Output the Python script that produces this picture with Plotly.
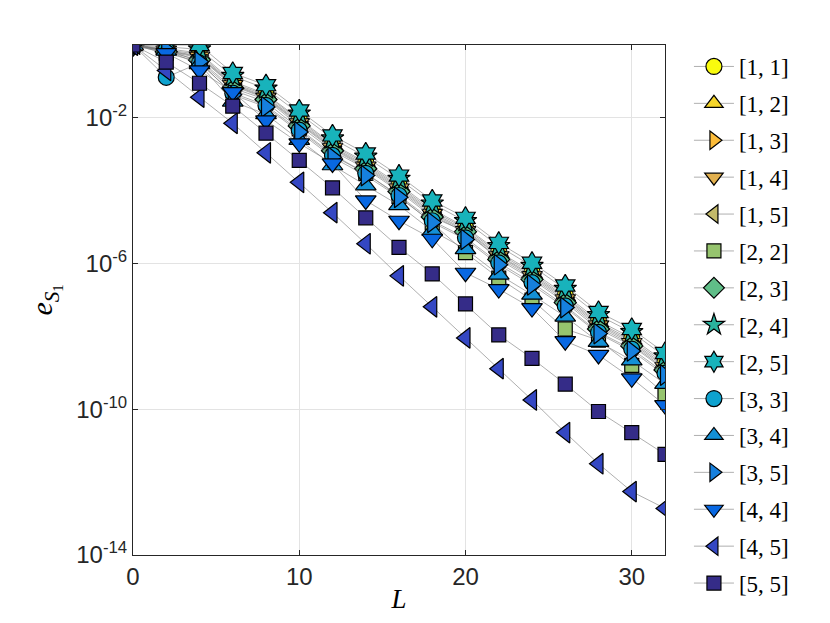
import plotly.graph_objects as go

# refinement level L and error e_S1 for each [p, q] pair
L = [0, 2, 4, 6, 8, 10, 12, 14, 16, 18, 20, 22, 24, 26, 28, 30, 32]

e_11 = [1.0, 0.8, 0.6, 1.0e-1, 4.5e-2, 9.5e-3, 1.9e-3, 6.0e-4, 1.5e-4, 3.1e-5, 1.0e-5, 2.1e-6, 6.0e-7, 1.4e-7, 2.7e-8, 9.0e-9, 2.0e-9]
e_12 = [1.0, 0.75, 0.55, 9.0e-2, 4.2e-2, 8.5e-3, 1.75e-3, 5.5e-4, 1.35e-4, 2.8e-5, 9.2e-6, 1.9e-6, 5.4e-7, 1.25e-7, 2.4e-8, 8.0e-9, 1.8e-9]
e_13 = [1.0, 0.72, 0.5, 8.5e-2, 3.8e-2, 7.8e-3, 1.6e-3, 5.0e-4, 1.25e-4, 2.5e-5, 8.4e-6, 1.7e-6, 4.9e-7, 1.15e-7, 2.2e-8, 7.2e-9, 1.6e-9]
e_14 = [1.0, 0.7, 0.48, 8.0e-2, 3.6e-2, 7.2e-3, 1.5e-3, 4.6e-4, 1.15e-4, 2.3e-5, 7.8e-6, 1.6e-6, 4.5e-7, 1.05e-7, 2.0e-8, 6.6e-9, 1.45e-9]
e_15 = [1.0, 0.68, 0.45, 7.6e-2, 3.4e-2, 6.8e-3, 1.4e-3, 4.3e-4, 1.05e-4, 2.1e-5, 7.2e-6, 1.45e-6, 4.1e-7, 9.5e-8, 1.8e-8, 6.0e-9, 1.3e-9]
e_22 = [1.0, 0.6, 0.35, 5.8e-2, 2.7e-2, 5.0e-3, 1.0e-3, 3.0e-4, 7.0e-5, 1.3e-5, 2.0e-6, 4.0e-7, 1.0e-7, 1.6e-8, 7.9e-9, 1.6e-9, 2.6e-10]
e_23 = [1.0, 0.65, 0.39, 6.5e-2, 3.2e-2, 6.0e-3, 1.25e-3, 4.0e-4, 9.5e-5, 1.9e-5, 7.5e-6, 1.3e-6, 3.7e-7, 8.5e-8, 1.6e-8, 5.5e-9, 1.2e-9]
e_24 = [1.0, 0.9, 0.75, 1.4e-1, 6.3e-2, 1.3e-2, 2.7e-3, 8.5e-4, 2.1e-4, 4.4e-5, 1.45e-5, 3.0e-6, 8.5e-7, 2.0e-7, 3.8e-8, 1.3e-8, 2.8e-9]
e_25 = [1.0, 1.0, 1.0, 1.7e-1, 7.9e-2, 1.6e-2, 3.3e-3, 1.05e-3, 2.6e-4, 5.4e-5, 1.8e-5, 3.7e-6, 1.05e-6, 2.5e-7, 4.7e-8, 1.6e-8, 3.5e-9]
e_33 = [1.0, 0.13, 0.32, 4.8e-2, 2.2e-2, 4.6e-3, 9.3e-4, 3.0e-4, 7.4e-5, 1.5e-5, 5.1e-6, 1.05e-6, 3.0e-7, 6.9e-8, 1.3e-8, 4.5e-9, 9.8e-10]
e_34 = [1.0, 0.7, 0.3, 2.8e-2, 1.26e-2, 2.5e-3, 5.0e-4, 1.4e-4, 4.0e-5, 7.9e-6, 2.5e-6, 5.0e-7, 1.4e-7, 3.5e-8, 7.1e-9, 2.2e-9, 5.0e-10]
e_35 = [1.0, 0.75, 0.35, 4.3e-2, 2.0e-2, 4.1e-3, 8.3e-4, 2.6e-4, 6.6e-5, 1.35e-5, 4.6e-6, 9.3e-7, 2.6e-7, 6.2e-8, 1.2e-8, 4.0e-9, 8.7e-10]
e_44 = [1.0, 0.6, 0.2, 5.1e-2, 8.5e-3, 2.0e-3, 5.6e-4, 5.4e-5, 1.5e-5, 4.8e-6, 5.6e-7, 2.0e-7, 6.0e-8, 7.4e-9, 3.1e-9, 7.1e-10, 1.3e-10]
e_45 = [1.0, 0.2, 3.7e-2, 7.1e-3, 1.1e-3, 1.7e-4, 2.5e-5, 3.5e-6, 4.6e-7, 6.5e-8, 9.1e-9, 1.3e-9, 1.8e-10, 2.3e-11, 3.2e-12, 5.5e-13, 1.9e-13]
e_55 = [1.0, 0.34, 8.9e-2, 2.1e-2, 3.8e-3, 6.8e-4, 1.2e-4, 1.8e-5, 2.8e-6, 5.2e-7, 7.8e-8, 1.1e-8, 2.5e-9, 4.9e-10, 8.7e-11, 2.3e-11, 5.8e-12]

names = ["[1, 1]", "[1, 2]", "[1, 3]", "[1, 4]", "[1, 5]", "[2, 2]", "[2, 3]", "[2, 4]",
         "[2, 5]", "[3, 3]", "[3, 4]", "[3, 5]", "[4, 4]", "[4, 5]", "[5, 5]"]
series = [e_11, e_12, e_13, e_14, e_15, e_22, e_23, e_24, e_25, e_33, e_34, e_35, e_44, e_45, e_55]

# parula-like colours, one per pair
colors = ["#F9FB0E", "#F6D62B", "#FCBC3A", "#E2B04E", "#C4BA6A", "#96C46E", "#60BE88", "#2AB29D",
          "#18B3BB", "#0EA2CF", "#1490D6", "#1680DE", "#0868E2", "#3447C3", "#352C88"]
symbols = ["circle", "triangle-up", "triangle-right", "triangle-down", "triangle-left", "square",
           "diamond", "star", "hexagram", "circle", "triangle-up", "triangle-right",
           "triangle-down", "triangle-left", "square"]
sizes = [16, 18, 18, 18, 18, 14, 17, 17, 17, 16, 18, 18, 18, 18, 14]

fig = go.Figure()

for i in range(len(names)):
    fig.add_trace(go.Scatter(
        x=L, y=series[i], name=names[i], mode="lines+markers",
        legendgroup=names[i],
        line=dict(color="rgba(120,120,120,0.85)", width=0.7),
        marker=dict(symbol=symbols[i], size=sizes[i], color=colors[i],
                    line=dict(color="black", width=1.2)),
    ))

# page has an 8px body margin, so the figure is a bit smaller than the window
fig.update_layout(
    width=822, height=615,
    plot_bgcolor="white", paper_bgcolor="white",
    margin=dict(l=125, r=165, t=37, b=68),
    font=dict(family="Liberation Sans, Arial", size=24, color="#262626"),
    legend=dict(x=1.045, y=1.0, xanchor="left", yanchor="top",
                font=dict(family="Liberation Serif, serif", size=23, color="black"),
                tracegroupgap=4, itemwidth=40, bgcolor="rgba(0,0,0,0)",
                maxheight=640),
    showlegend=True,
)

fig.update_xaxes(
    range=[0, 32], tickvals=[0, 10, 20, 30],
    ticks="inside", ticklen=5, tickcolor="#262626",
    showline=True, linecolor="#262626", linewidth=1, mirror="ticks",
    showgrid=True, gridcolor="#e3e3e3", zeroline=False,
    title=dict(text="<i>L</i>", font=dict(family="Liberation Serif, serif", size=27, color="black"),
               standoff=0),
)
fig.update_yaxes(
    type="log", range=[-14, 0],
    tickvals=[1e-2, 1e-6, 1e-10, 1e-14],
    ticktext=["10<sup>-2</sup>", "10<sup>-6</sup>", "10<sup>-10</sup>", "10<sup>-14</sup>"],
    ticks="inside", ticklen=5, tickcolor="#262626",
    showline=True, linecolor="#262626", linewidth=1, mirror="ticks",
    showgrid=True, gridcolor="#e3e3e3", zeroline=False,
    title=dict(text="<i>e</i><sub><i>S</i><sub>1</sub></sub>",
               font=dict(family="Liberation Serif, serif", size=30, color="black"), standoff=14),
)

fig.write_html("out.html")
